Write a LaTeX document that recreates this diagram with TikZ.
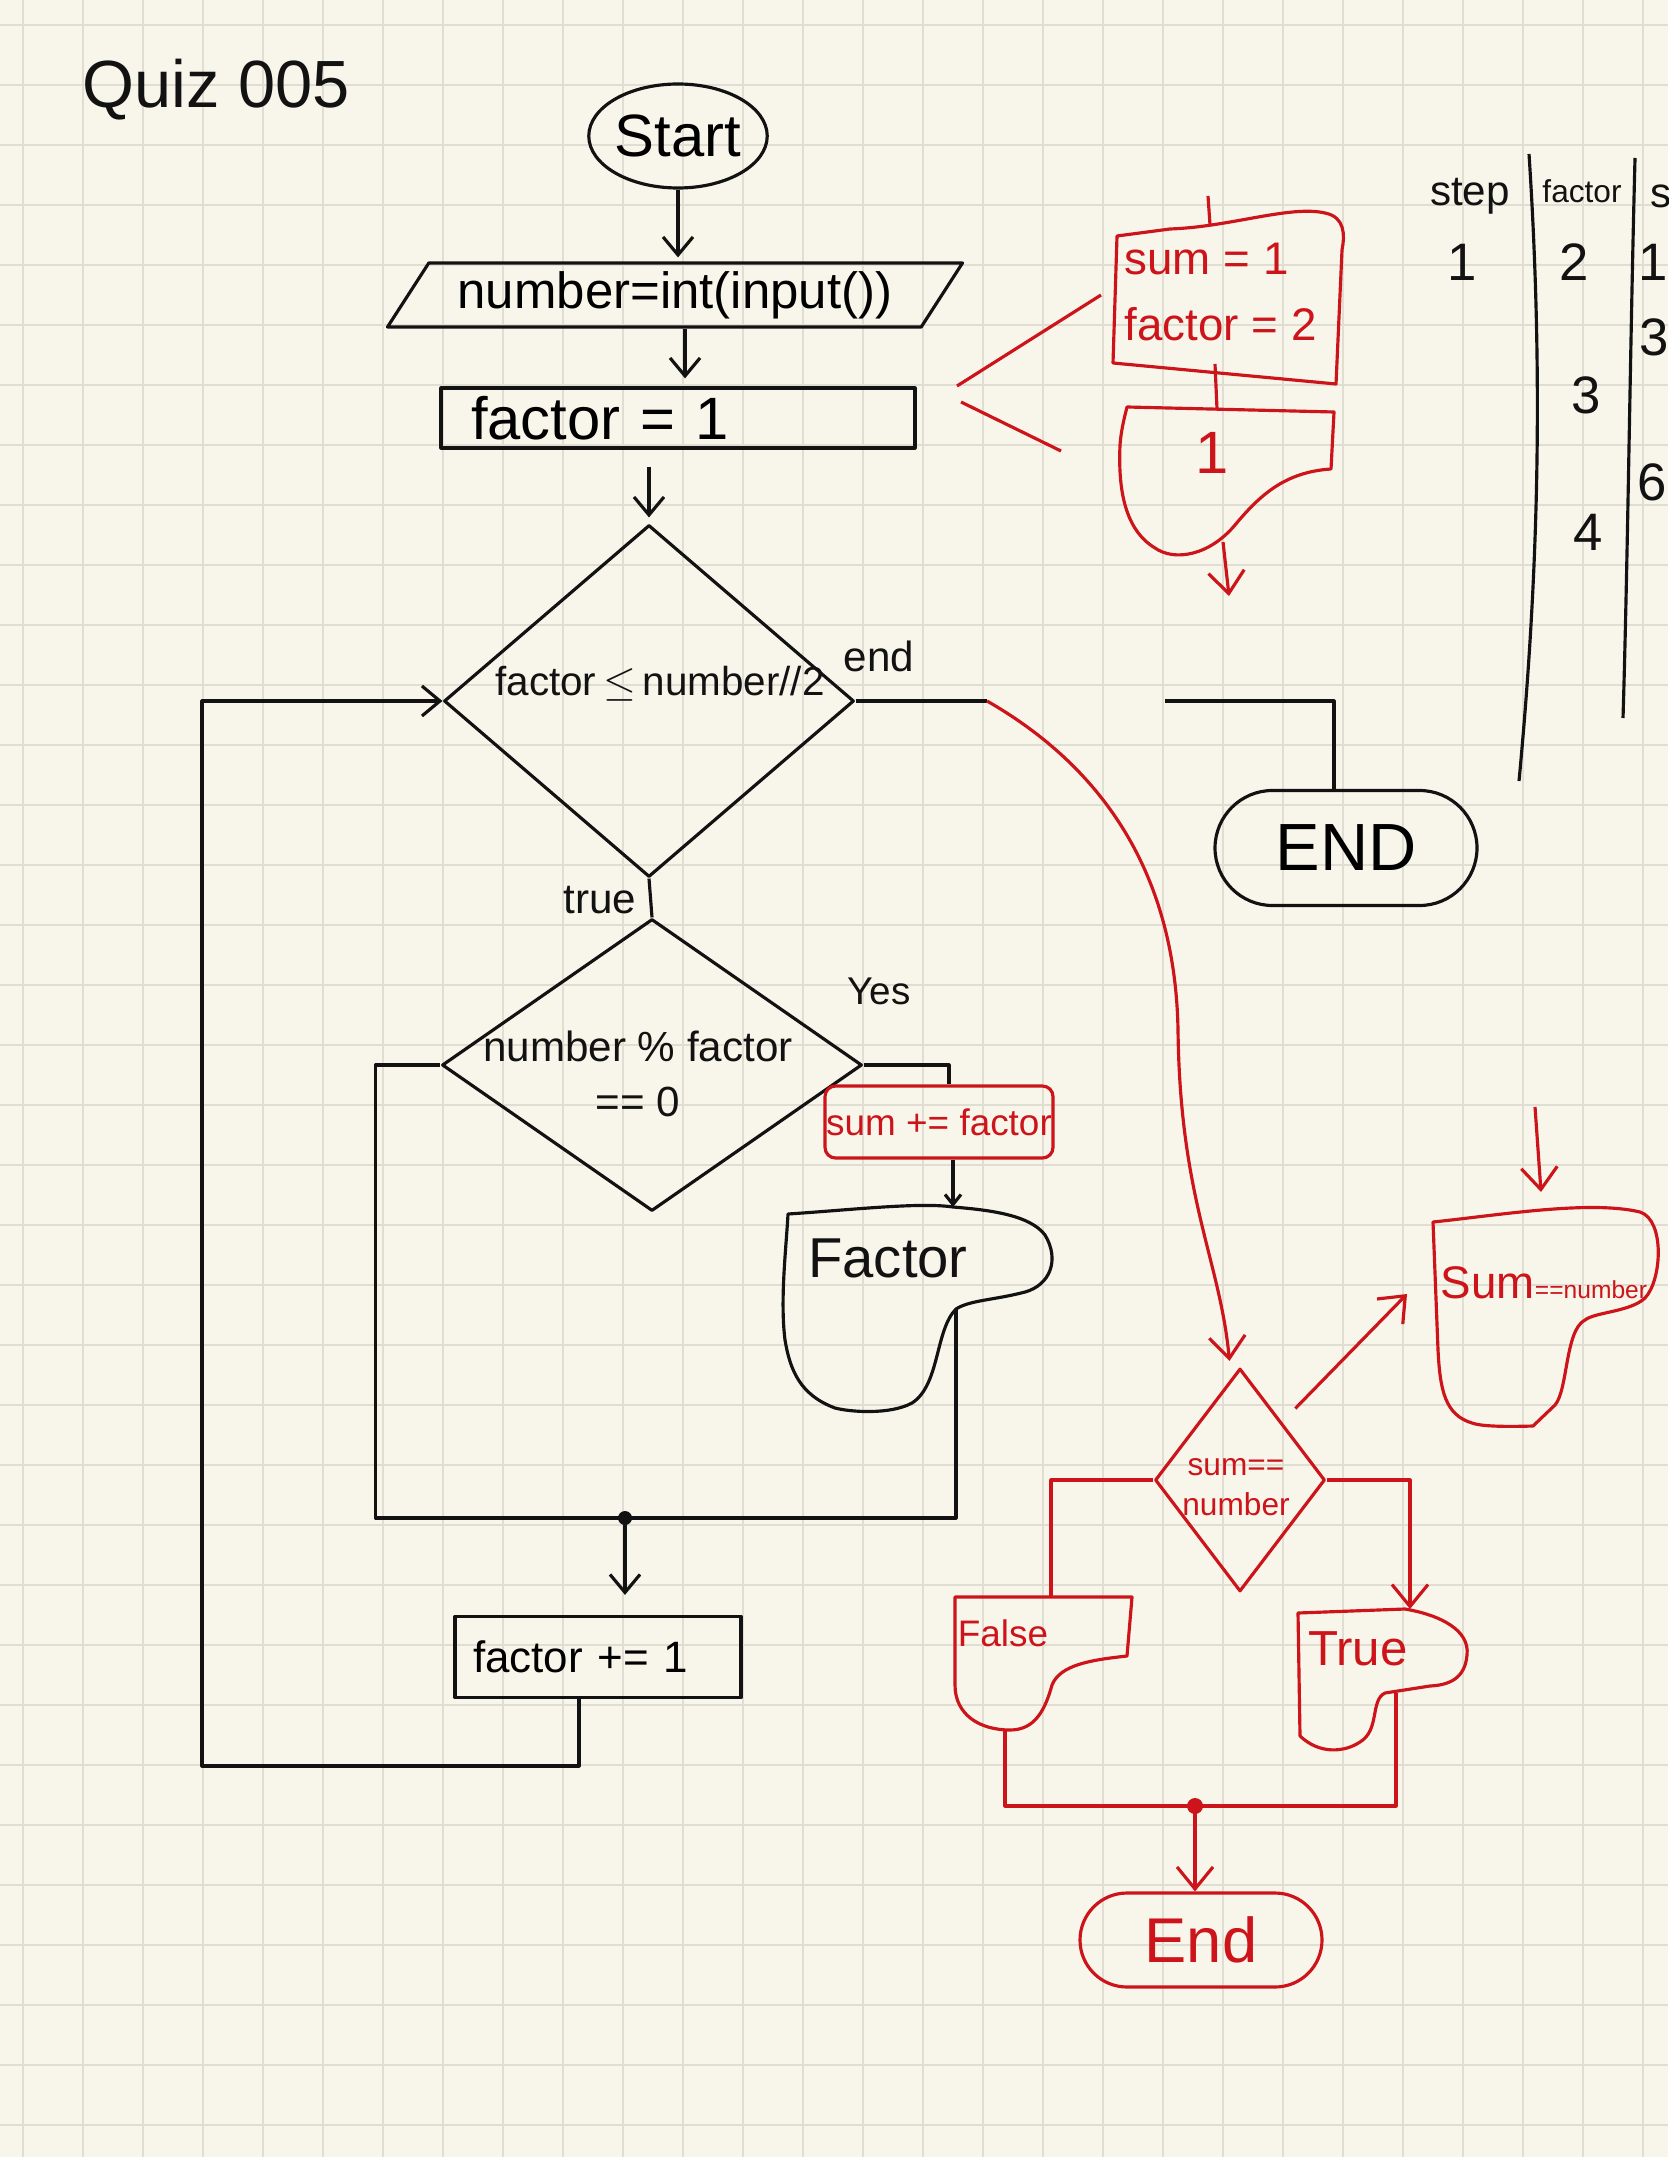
\documentclass[tikz,border=0pt]{standalone}
\usepackage{fontspec}
\setmainfont{Liberation Sans}
\usetikzlibrary{arrows.meta,positioning,shapes.geometric,shapes.misc}
\definecolor{paper}{RGB}{248,246,235}
\definecolor{gridln}{RGB}{224,222,211}
\definecolor{ink}{RGB}{18,18,18}
\definecolor{pen}{RGB}{204,20,26}

\begin{document}
\begin{tikzpicture}[line/.style={draw=ink,line width=0.9pt,line join=round},redline/.style={draw=pen,line width=0.9pt,line join=round},arrow/.style={line,-{Straight Barb[length=1.8mm,width=3mm]}},redarrow/.style={redline,-{Straight Barb[length=2.2mm,width=3.6mm]}},box/.style={line,rectangle,inner sep=0pt},redbox/.style={redline,rectangle,rounded corners=3pt,inner sep=0pt,text=pen},lbl/.style={text=ink,inner sep=0pt},redlbl/.style={text=pen,inner sep=0pt},decide/.style={line,diamond,inner sep=0pt}]
\useasboundingbox (0,0) rectangle (16.68,-21.57);
\fill[paper] (0,0) rectangle (16.68,-21.57);
\foreach \x in {0,...,27} \draw[gridln,line width=0.6pt] (0.23+0.6*\x,0) -- (0.23+0.6*\x,-21.57);
\foreach \y in {0,...,35} \draw[gridln,line width=0.6pt] (0,-0.25-0.6*\y) -- (16.68,-0.25-0.6*\y);

% main flow
\node[lbl,font=\fontsize{19}{22}\selectfont] (title) at (2.16,-0.90) {Quiz 005};
\node[line,ellipse,minimum width=1.76cm,minimum height=1.04cm,inner sep=0pt,font=\fontsize{17}{20}\selectfont] (start) at (6.78,-1.36) {Start};
\node[line,trapezium,trapezium left angle=49,trapezium right angle=131,trapezium stretches body,minimum width=5.75cm,minimum height=0.64cm,inner sep=0pt,font=\fontsize{14.5}{17}\selectfont] (input) at (6.75,-2.95) {number=int(input())};
\node[box,minimum height=0.6cm,text width=4.14cm,inner xsep=0.3cm,align=left,font=\fontsize{17}{20}\selectfont] (init) at (6.78,-4.18) {factor = 1};
\node[decide,minimum width=4.10cm,minimum height=3.52cm] (cond) at (6.49,-7.01) {};
\node[lbl,font=\fontsize{11.5}{14}\selectfont] (condtxt) at (6.60,-6.84) {factor\,$\leq$\,number//2};
\node[decide,minimum width=4.20cm,minimum height=2.92cm] (check) at (6.52,-10.65) {};
\node[lbl,align=center,font=\fontsize{12}{15.6}\selectfont] (checktxt) at (6.38,-10.74) {number \% factor\\== 0};
\node[redbox,minimum width=2.28cm,minimum height=0.72cm,font=\fontsize{10.5}{12}\selectfont] (addsum) at (9.39,-11.22) {sum += factor};
\node[lbl,font=\fontsize{16}{18}\selectfont] (factlbl) at (8.88,-12.58) {Factor};
\node[box,minimum height=0.81cm,text width=2.5cm,inner xsep=0.18cm,align=left,font=\fontsize{12.5}{14}\selectfont] (incr) at (5.98,-16.57) {factor += 1};
\node[line,rounded rectangle,minimum width=2.62cm,minimum height=1.15cm,inner sep=0pt,font=\fontsize{19}{22}\selectfont] (finish) at (13.46,-8.48) {END};
\node[lbl,font=\fontsize{12}{14}\selectfont] (endlbl) at (8.79,-6.56) {end};
\node[lbl,font=\fontsize{12}{14}\selectfont] (truelbl) at (6.00,-9.00) {true};
\node[lbl,font=\fontsize{11}{13}\selectfont] (yeslbl) at (8.79,-9.91) {Yes};

% red notes
\node[redlbl,align=left,font=\fontsize{13}{19}\selectfont,anchor=west] (initnote) at (11.24,-2.92) {sum = 1\\factor = 2};
\node[redlbl,font=\fontsize{17}{20}\selectfont] (onelbl) at (12.12,-4.53) {1};
\node[decide,draw=pen,minimum width=1.70cm,minimum height=2.23cm] (sumchk) at (12.40,-14.80) {};
\node[redlbl,align=center,font=\fontsize{9}{11.5}\selectfont] (sumchktxt) at (12.36,-14.87) {sum==\\number};
\node[redlbl] (sumnum) at (15.44,-12.83) {{\fontsize{13}{15}\selectfont Sum}{\fontsize{7}{9}\selectfont ==number}};
\node[redlbl,font=\fontsize{10.5}{12}\selectfont] (falselbl) at (10.03,-16.33) {False};
\node[redlbl,font=\fontsize{14}{16}\selectfont] (truenote) at (13.58,-16.49) {True};
\node[redline,rounded rectangle,minimum width=2.42cm,minimum height=0.94cm,inner sep=0pt,text=pen,font=\fontsize{18}{20}\selectfont] (redend) at (12.01,-19.40) {End};

% trace table
\node[lbl,font=\fontsize{12}{14}\selectfont] (stephd) at (14.70,-1.96) {step};
\node[lbl,font=\fontsize{9}{11}\selectfont] (facthd) at (15.82,-1.91) {factor};
\node[lbl,font=\fontsize{12}{14}\selectfont,anchor=west] (sumhd) at (16.50,-1.96) {sum};
\node[lbl,font=\fontsize{15}{17}\selectfont] (s1) at (14.62,-2.62) {1};
\node[lbl,font=\fontsize{15}{17}\selectfont] (f1) at (15.74,-2.62) {2};
\node[lbl,font=\fontsize{15}{17}\selectfont] (f2) at (15.86,-3.95) {3};
\node[lbl,font=\fontsize{15}{17}\selectfont] (f3) at (15.88,-5.32) {4};
\node[lbl,font=\fontsize{15}{17}\selectfont] (u1) at (16.53,-2.62) {1};
\node[lbl,font=\fontsize{15}{17}\selectfont] (u2) at (16.54,-3.37) {3};
\node[lbl,font=\fontsize{15}{17}\selectfont] (u3) at (16.52,-4.82) {6};
\draw[line] (15.29,-1.54) .. controls (15.45,-4.0) and (15.36,-6.0) .. (15.19,-7.81);
\draw[line] (16.35,-1.58) .. controls (16.30,-3.5) and (16.28,-5.5) .. (16.23,-7.18);

% blobs drawn by hand
\draw[line] (7.88,-12.14) .. controls (8.5,-12.10) and (9.2,-12.02) .. (9.53,-12.07) .. controls (9.9,-12.10) and (10.3,-12.15) .. (10.45,-12.35) .. controls (10.6,-12.6) and (10.5,-12.85) .. (10.25,-12.92) .. controls (9.95,-13.0) and (9.7,-13.0) .. (9.56,-13.09) .. controls (9.35,-13.3) and (9.4,-13.85) .. (9.12,-14.03) .. controls (8.9,-14.15) and (8.5,-14.12) .. (8.35,-14.08) .. controls (8.0,-13.95) and (7.9,-13.7) .. (7.85,-13.4) .. controls (7.8,-13.0) and (7.86,-12.5) .. (7.88,-12.14) -- cycle;
\draw[redline] (11.17,-2.36) -- (11.70,-2.29) .. controls (12.3,-2.27) and (12.9,-2.05) .. (13.25,-2.13) .. controls (13.45,-2.17) and (13.45,-2.35) .. (13.42,-2.50) -- (13.36,-3.84) -- (11.13,-3.63) -- cycle;
\draw[redline] (11.27,-4.07) -- (13.34,-4.12) -- (13.31,-4.69) .. controls (12.85,-4.72) and (12.6,-4.95) .. (12.35,-5.25) .. controls (12.1,-5.55) and (11.75,-5.62) .. (11.55,-5.48) .. controls (11.25,-5.3) and (11.18,-4.9) .. (11.20,-4.45) .. controls (11.21,-4.3) and (11.25,-4.15) .. (11.27,-4.07) -- cycle;
\draw[redline] (14.33,-12.22) .. controls (15.0,-12.15) and (15.9,-12.0) .. (16.40,-12.12) .. controls (16.65,-12.2) and (16.62,-12.8) .. (16.45,-12.98) .. controls (16.3,-13.12) and (15.95,-13.12) .. (15.85,-13.2) .. controls (15.65,-13.3) and (15.68,-13.9) .. (15.55,-14.05) -- (15.33,-14.26) .. controls (15.0,-14.27) and (14.8,-14.26) .. (14.72,-14.23) .. controls (14.45,-14.15) and (14.40,-13.9) .. (14.38,-13.5) -- cycle;
\draw[redline] (9.55,-15.97) -- (11.32,-15.97) -- (11.27,-16.56) .. controls (10.9,-16.6) and (10.6,-16.65) .. (10.52,-16.85) .. controls (10.45,-17.1) and (10.35,-17.3) .. (10.10,-17.30) .. controls (9.8,-17.3) and (9.55,-17.15) .. (9.55,-16.85) -- cycle;
\draw[redline] (12.98,-16.13) -- (14.05,-16.09) .. controls (14.4,-16.15) and (14.7,-16.3) .. (14.67,-16.55) .. controls (14.65,-16.78) and (14.5,-16.85) .. (14.30,-16.86) -- (13.85,-16.93) .. controls (13.7,-17.0) and (13.8,-17.3) .. (13.6,-17.42) .. controls (13.45,-17.52) and (13.2,-17.55) .. (13.0,-17.36) -- cycle;

% connector points
\coordinate (facttop) at (9.53,-12.07);
\coordinate (factout) at (9.56,-13.09);
\coordinate (joinA) at (6.25,-15.18);
\coordinate (loopbl) at (2.02,-17.66);
\coordinate (brk) at (9.87,-7.01);
\coordinate (resume) at (11.65,-7.01);
\coordinate (sbin) at (14.07,-12.94);
\coordinate (sbsrc) at (15.35,-11.07);
\coordinate (sbtop) at (15.41,-11.92);
\coordinate (ftop) at (10.51,-15.97);
\coordinate (ttop) at (14.10,-16.09);
\coordinate (fbot) at (10.05,-17.30);
\coordinate (tbot) at (13.96,-16.93);
\coordinate (joinB) at (11.95,-18.06);
\coordinate (ticka) at (12.08,-1.96);
\coordinate (tickb) at (12.10,-2.25);
\coordinate (initbot) at (12.15,-3.64);
\coordinate (onetop) at (12.17,-4.09);
\coordinate (onebot) at (12.23,-5.42);
\coordinate (oneout) at (12.29,-5.96);

% black connectors
\draw[arrow,shorten >=0.4mm] (start.south) -- (start.south |- input.north);
\draw[arrow,shorten >=0.8mm] ([xshift=1mm]input.south) -- ([xshift=1mm]input.south |- init.north);
\draw[arrow,shorten <=1.7mm,shorten >=0.6mm] (cond.north |- init.south) -- (cond.north);
\draw[line] (cond.south) -- (check.north);
\draw[line] (check.east) -| ([xshift=1mm]addsum.north);
\draw[arrow,-{Straight Barb[length=1mm,width=1.6mm]}] (addsum.south -| facttop) -- (facttop);
\draw[line] (factout) |- (joinA);
\draw[line] (check.west) -- ++(-0.65,0) |- (joinA);
\fill[ink] (joinA) circle (0.07);
\draw[arrow,shorten >=2mm] (joinA) -- (joinA |- incr.north);
\draw[arrow] ([xshift=-1.9mm]incr.south) |- (loopbl) |- (cond.west);
\draw[line] (cond.east) -- (brk);
\draw[line] (resume) -| ([xshift=-1.2mm]finish.north);

% red connectors
\draw[redarrow,shorten >=0.6mm] (brk) .. controls (10.9,-7.6) and (11.75,-8.6) .. (11.78,-10.3) .. controls (11.8,-12.0) and (12.2,-12.6) .. ([xshift=-1mm]sumchk.north);
\draw[redarrow] ([shift={(0.12,0.15)}]sumchk.north east) -- (sbin);
\draw[redarrow] (sbsrc) -- (sbtop);
\draw[redline] (sumchk.west) -| (ftop);
\draw[redarrow] (sumchk.east) -| (ttop);
\draw[redline] (fbot) |- (joinB);
\draw[redline] (tbot) |- (joinB);
\fill[pen] (joinB) circle (0.08);
\draw[redarrow] (joinB) -- (joinB |- redend.north);
\draw[redline] (ticka) -- (tickb);
\draw[redline] (initbot) -- (onetop);
\draw[redarrow] (onebot) -- (oneout);
\draw[redline] (11.01,-2.95) -- (9.57,-3.86);
\draw[redline] (9.61,-4.02) -- (10.61,-4.51);
\end{tikzpicture}
\end{document}
